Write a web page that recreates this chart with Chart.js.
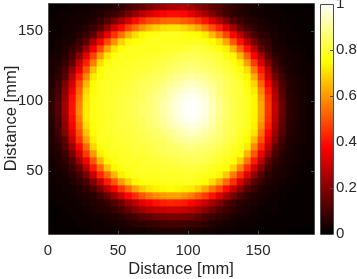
<!DOCTYPE html>
<html>
<head>
<meta charset="utf-8">
<script src="https://cdn.jsdelivr.net/npm/chart.js@4"></script>
<style>
  html, body { margin: 0; padding: 0; background: #fff; overflow: hidden; }
  canvas { position: absolute; top: 0; }
  #heatChart { left: 0; }
  #barChart { left: 319px; }
</style>
</head>
<body>
<canvas id="heatChart" width="319" height="279"></canvas>
<canvas id="barChart" width="38" height="279"></canvas>
<script>
const xTicks = [0, 50, 100, 150];
const yTicks = [50, 100, 150];
const barTicks = [0, 0.2, 0.4, 0.6, 0.8, 1];
const barTickLabels = ['0', '0.2', '0.4', '0.6', '0.8', '1'];
const axisTitle = 'Distance [mm]';

// cell size and extent in mm
const cellSize = 5;
const xMin = 0;
const xMax = 190;
const yMin = 5;
const yMax = 170;

// in percent, top row first
const heatRows = [
  [1,1,1,2,2,2,3,3,4,5,7,10,12,15,18,21,23,25,26,27,24,20,17,14,12,9,7,5,4,3,3,2,2,1,1,1,1,1],
  [1,2,2,2,3,3,4,5,7,9,12,17,22,27,31,35,37,39,39,38,34,29,24,19,14,10,7,5,4,3,3,2,2,2,1,1,1,1],
  [2,2,2,3,3,4,5,8,12,17,24,31,39,44,48,50,52,53,53,51,49,45,40,33,26,19,13,9,6,5,4,3,2,2,1,1,1,1],
  [2,2,3,3,4,6,9,13,21,31,39,47,54,60,65,68,70,71,71,69,66,62,56,49,42,33,24,15,10,7,5,4,3,2,2,1,1,1],
  [2,2,3,4,6,9,14,24,34,45,54,63,70,74,76,77,78,78,78,77,76,75,72,65,57,48,38,27,18,11,7,5,4,3,2,2,1,1],
  [2,3,4,5,9,14,25,36,48,59,68,74,76,77,78,78,78,78,78,78,78,78,77,75,71,62,51,40,28,18,10,7,4,3,2,2,1,1],
  [2,3,5,8,12,23,35,48,61,71,76,78,78,78,78,78,79,79,79,80,81,81,80,79,76,73,64,52,40,27,15,9,5,4,3,2,2,1],
  [3,4,6,11,20,33,47,60,71,76,78,78,78,78,79,79,80,81,82,83,83,83,82,81,80,77,74,64,51,37,24,13,7,5,3,3,2,1],
  [4,5,8,14,28,42,56,70,76,78,78,79,79,80,80,81,82,83,84,85,85,85,84,83,81,80,77,73,61,46,32,19,10,5,4,3,2,2],
  [4,6,11,21,35,50,66,75,78,78,79,79,80,80,81,82,83,85,86,87,88,87,86,85,83,81,79,76,70,55,41,26,13,7,4,3,2,2],
  [5,7,13,27,42,57,72,77,78,79,79,80,81,82,83,84,85,87,89,90,91,90,89,87,85,83,81,78,74,63,46,30,17,9,5,4,3,2],
  [5,9,17,31,48,64,75,78,79,79,80,81,82,83,84,85,87,89,91,93,94,93,91,89,87,84,82,80,76,69,52,36,21,11,6,4,3,2],
  [6,10,20,35,52,69,76,78,79,80,80,81,82,84,85,87,89,92,94,96,97,96,94,91,87,84,82,80,77,72,57,41,25,12,6,4,3,2],
  [6,11,22,39,55,71,77,78,79,80,81,82,83,84,86,88,90,93,96,98,99,98,96,92,88,85,82,80,78,74,60,44,26,14,7,5,3,2],
  [7,12,24,40,57,72,77,78,79,80,81,82,83,85,86,88,91,94,97,99,100,99,97,93,89,85,83,80,78,74,62,45,28,15,7,5,3,2],
  [7,12,24,40,58,72,77,78,79,80,81,82,83,85,86,88,91,94,97,99,100,99,97,93,89,85,83,80,78,74,62,45,28,15,7,5,3,2],
  [6,11,23,39,56,72,77,78,79,80,81,82,83,84,86,88,90,93,96,98,99,98,96,92,88,85,82,80,78,74,61,44,27,14,7,5,3,2],
  [6,10,21,37,53,70,76,78,79,80,81,81,82,84,85,87,89,92,94,96,97,96,94,91,87,84,82,80,78,73,58,42,25,13,6,4,3,2],
  [5,9,19,33,49,66,76,78,79,80,80,81,82,83,84,85,87,89,91,93,94,93,91,89,87,84,82,79,77,71,54,38,22,12,6,4,3,2],
  [5,8,14,29,45,61,73,78,78,79,80,80,81,82,83,84,85,87,89,90,91,90,89,87,85,83,81,78,75,65,49,33,19,9,5,4,3,2],
  [4,6,12,23,38,53,69,76,78,79,79,80,81,81,82,83,84,85,86,87,88,87,86,85,83,81,79,77,72,58,43,28,14,8,5,3,2,2],
  [4,5,9,18,31,46,60,73,77,78,79,79,80,80,81,82,83,84,84,85,85,85,84,83,81,79,78,75,64,50,35,21,11,6,4,3,2,2],
  [3,5,7,12,23,36,50,64,74,77,78,79,79,79,80,80,81,82,82,83,83,83,82,81,79,78,76,68,55,41,27,14,8,5,4,3,2,1],
  [3,4,5,9,15,26,41,53,66,74,77,78,78,79,79,79,80,80,80,81,81,81,80,78,77,75,69,57,44,31,19,10,6,4,3,2,2,1],
  [2,3,4,6,10,18,29,43,53,64,73,76,78,78,78,78,79,79,79,79,79,78,78,77,74,67,56,45,33,21,12,7,5,4,3,2,1,1],
  [2,3,3,5,7,11,19,29,41,50,60,68,74,76,77,77,78,78,78,78,78,77,75,70,63,53,44,32,21,13,8,5,4,3,2,2,1,1],
  [2,2,3,3,5,7,11,18,27,36,45,53,61,67,71,73,74,75,74,73,72,68,62,55,48,39,29,20,12,8,5,4,3,2,2,1,1,1],
  [2,2,2,3,4,5,6,10,15,22,30,38,44,50,55,58,60,61,61,59,56,51,46,40,32,25,17,11,7,5,4,3,2,2,1,1,1,1],
  [1,2,2,2,3,4,5,6,8,12,16,22,27,33,37,40,42,43,42,41,38,34,29,24,19,13,9,6,5,4,3,2,2,1,1,1,1,1],
  [1,1,2,2,2,3,4,5,6,8,11,15,19,23,26,28,29,30,30,29,27,24,20,16,12,9,7,5,4,3,2,2,2,1,1,1,1,1],
  [1,1,1,2,2,2,3,3,4,5,6,8,10,12,14,16,17,18,18,17,16,14,11,9,7,6,4,3,3,2,2,1,1,1,1,1,1,1],
  [1,1,1,1,2,2,2,2,3,3,4,5,6,7,8,9,10,10,10,10,9,8,7,5,4,3,3,2,2,2,1,1,1,1,1,1,1,1],
  [1,1,1,1,1,1,2,2,2,2,2,3,3,3,4,4,5,5,5,5,4,4,3,3,2,2,2,1,1,1,1,1,1,1,1,0,0,0]
];

const textColor = '#262626';
const frameColor = '#4d4d4d';
const labelFont = 'Liberation Sans';

// MATLAB hot
function hotColor(v) {
  const r = Math.min(1, v / 0.375);
  const g = Math.max(0, Math.min(1, (v - 0.375) / 0.375));
  const b = Math.max(0, (v - 0.75) / 0.25);
  return `rgb(${Math.round(r * 255)}, ${Math.round(g * 255)}, ${Math.round(b * 255)})`;
}

const heatDatasets = heatRows.map((row, j) => ({
  data: row.map((v, i) => ({
    x: xMin + (i + 0.5) * cellSize,
    y: [yMax - (j + 1) * cellSize, yMax - j * cellSize]
  })),
  backgroundColor: row.map(v => hotColor(v / 100)),
  borderWidth: 0,
  barPercentage: 1,
  categoryPercentage: 1,
  grouped: false
}));

// frame and inward ticks, on the sides listed in the chart's frame options
const framePlugin = {
  id: 'frame',
  afterDatasetsDraw(chart, args, opts) {
    const { ctx, chartArea: a, scales } = chart;
    const len = 3;
    ctx.save();
    ctx.strokeStyle = frameColor;
    ctx.lineWidth = 1;
    ctx.beginPath();
    ctx.rect(a.left + 0.5, a.top + 0.5, a.right - a.left, a.bottom - a.top);
    if (opts.xTicks) {
      opts.xTicks.forEach(v => {
        const px = Math.round(scales.x.getPixelForValue(v)) + 0.5;
        ctx.moveTo(px, a.bottom);
        ctx.lineTo(px, a.bottom - len);
        ctx.moveTo(px, a.top);
        ctx.lineTo(px, a.top + len);
      });
    }
    opts.yTicks.forEach(v => {
      const py = Math.round(scales.y.getPixelForValue(v)) + 0.5;
      if (opts.leftTicks) {
        ctx.moveTo(a.left, py);
        ctx.lineTo(a.left + len, py);
      }
      ctx.moveTo(a.right, py);
      ctx.lineTo(a.right - len, py);
    });
    ctx.stroke();
    ctx.restore();
  }
};

// labels may hang past the plot box, the box itself must not move
function noScalePadding(scale) {
  scale.paddingTop = 0;
  scale.paddingBottom = 0;
  scale.paddingLeft = 0;
  scale.paddingRight = 0;
}

new Chart(document.getElementById('heatChart'), {
  type: 'bar',
  data: { datasets: heatDatasets },
  plugins: [framePlugin],
  options: {
    responsive: false,
    animation: false,
    layout: { autoPadding: false, padding: { top: 3, right: 5, left: 0, bottom: 0 } },
    plugins: {
      legend: { display: false },
      tooltip: { enabled: false },
      frame: { xTicks: xTicks, yTicks: yTicks, leftTicks: true }
    },
    scales: {
      x: {
        type: 'linear',
        offset: false,
        min: xMin,
        max: xMax,
        afterBuildTicks: scale => { scale.ticks = xTicks.map(v => ({ value: v })); },
        afterFit: scale => { scale.height = 45; noScalePadding(scale); },
        grid: { display: false, drawTicks: false },
        border: { display: false },
        ticks: {
          autoSkip: false,
          maxRotation: 0,
          padding: 8,
          color: textColor,
          font: { family: labelFont, size: 15 }
        },
        title: {
          display: true,
          text: axisTitle,
          color: textColor,
          font: { family: labelFont, size: 16.5 },
          padding: { top: 0, bottom: 0 }
        }
      },
      y: {
        type: 'linear',
        min: yMin,
        max: yMax,
        afterBuildTicks: scale => { scale.ticks = yTicks.map(v => ({ value: v })); },
        afterFit: scale => { scale.width = 48; noScalePadding(scale); },
        grid: { display: false, drawTicks: false },
        border: { display: false },
        ticks: {
          autoSkip: false,
          padding: 5,
          color: textColor,
          font: { family: labelFont, size: 15 }
        },
        title: {
          display: true,
          text: axisTitle,
          color: textColor,
          font: { family: labelFont, size: 16.5 },
          padding: { top: 2, bottom: 0 }
        }
      }
    }
  }
});

// colour bar, 2 px per level
const barLevels = 115;
const barDatasets = [];
for (let i = 0; i < barLevels; i++) {
  barDatasets.push({
    data: [[i / barLevels, (i + 1) / barLevels]],
    backgroundColor: hotColor((i + 0.5) / barLevels),
    borderWidth: 0,
    barPercentage: 1,
    categoryPercentage: 1,
    grouped: false
  });
}

new Chart(document.getElementById('barChart'), {
  type: 'bar',
  data: { labels: [''], datasets: barDatasets },
  plugins: [framePlugin],
  options: {
    responsive: false,
    animation: false,
    layout: { autoPadding: false, padding: { top: 4, left: 1, right: 0, bottom: 45 } },
    plugins: {
      legend: { display: false },
      tooltip: { enabled: false },
      frame: { yTicks: barTicks, leftTicks: false }
    },
    scales: {
      x: { display: false },
      y: {
        position: 'right',
        type: 'linear',
        min: 0,
        max: 1,
        afterBuildTicks: scale => { scale.ticks = barTicks.map(v => ({ value: v })); },
        afterFit: scale => { scale.width = 24; noScalePadding(scale); },
        grid: { display: false, drawTicks: false },
        border: { display: false },
        ticks: {
          autoSkip: false,
          padding: 3,
          color: textColor,
          font: { family: labelFont, size: 15 },
          callback: value => barTickLabels[barTicks.indexOf(value)]
        }
      }
    }
  }
});
</script>
</body>
</html>
